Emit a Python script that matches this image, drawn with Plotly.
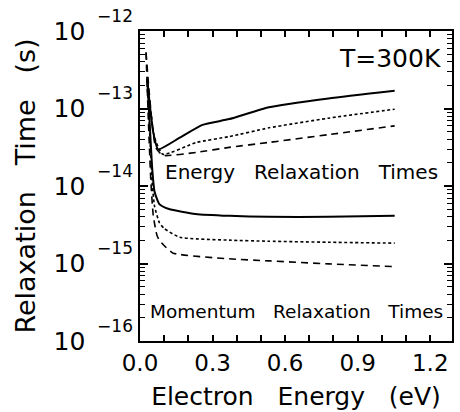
import plotly.graph_objects as go

# ---- data ----
energy_solid_x = [0.03, 0.04, 0.055, 0.075, 0.164, 0.258, 0.369, 0.533, 0.779, 1.053]
energy_solid_y = [2.41e-13, 1.16e-13, 4.88e-14, 2.97e-14, 4.2e-14, 6.15e-14, 7.3e-14, 1.04e-13, 1.35e-13, 1.70e-13]

energy_dot_x = [0.03, 0.045, 0.06, 0.094, 0.234, 0.369, 0.533, 0.779, 1.053]
energy_dot_y = [2.08e-13, 8.7e-14, 4.21e-14, 2.57e-14, 3.65e-14, 4.34e-14, 5.63e-14, 7.5e-14, 9.8e-14]

energy_dash_x = [0.025, 0.035, 0.05, 0.065, 0.094, 0.234, 0.369, 0.533, 0.779, 1.053]
energy_dash_y = [5.27e-13, 2.08e-13, 6.5e-14, 3.15e-14, 2.49e-14, 2.72e-14, 3.15e-14, 3.65e-14, 4.6e-14, 5.97e-14]

mom_solid_x = [0.03, 0.04, 0.05, 0.06, 0.08, 0.12, 0.23, 0.37, 0.53, 0.78, 1.053]
mom_solid_y = [2.41e-13, 6.5e-14, 1.76e-14, 8.5e-15, 5.85e-15, 5.05e-15, 4.36e-15, 4.12e-15, 4.0e-15, 4.0e-15, 4.12e-15]

mom_dot_x = [0.03, 0.04, 0.05, 0.06, 0.08, 0.1, 0.164, 0.37, 0.53, 0.78, 1.053]
mom_dot_y = [2.08e-13, 4.88e-14, 1.14e-14, 5.51e-15, 3.37e-15, 2.83e-15, 2.18e-15, 2.0e-15, 1.94e-15, 1.88e-15, 1.83e-15]

mom_dash_x = [0.025, 0.035, 0.045, 0.055, 0.07, 0.08, 0.135, 0.369, 0.533, 0.779, 1.053]
mom_dash_y = [5.27e-13, 6.5e-14, 1.14e-14, 4.12e-15, 2.31e-15, 2.0e-15, 1.37e-15, 1.15e-15, 1.08e-15, 9.9e-16, 9.1e-16]

y_tick_vals = [1e-12, 1e-13, 1e-14, 1e-15, 1e-16]
y_tick_exps = ["\u221212", "\u221213", "\u221214", "\u221215", "\u221216"]
x_tick_vals = [0.0, 0.3, 0.6, 0.9, 1.2]
x_tick_text = ["0.0", "0.3", "0.6", "0.9", "1.2"]

FONT = "DejaVu Sans"
SP = "\u00a0\u00a0\u00a0"

series = [
    (energy_solid_x, energy_solid_y, "solid", 2.0),
    (energy_dot_x, energy_dot_y, "3px,2.5px", 1.6),
    (energy_dash_x, energy_dash_y, "7px,5px", 1.6),
    (mom_solid_x, mom_solid_y, "solid", 2.0),
    (mom_dot_x, mom_dot_y, "3px,2.5px", 1.6),
    (mom_dash_x, mom_dash_y, "7px,5px", 1.6),
]

fig = go.Figure()
for xs, ys, dash, w in series:
    fig.add_trace(go.Scatter(x=xs, y=ys, mode="lines",
                             line=dict(color="black", width=w, dash=dash,
                                       shape="spline", smoothing=0.5),
                             showlegend=False))

fig.update_layout(
    width=460, height=412,
    margin=dict(l=140, r=6, t=26, b=69),
    paper_bgcolor="white", plot_bgcolor="white",
    font=dict(family=FONT, color="black"),
    annotations=[
        dict(text="T=300K", x=0.97, y=0.965, xref="paper", yref="paper",
             xanchor="right", yanchor="top", showarrow=False,
             font=dict(size=25, family=FONT, color="black")),
        dict(text="Energy" + SP + "Relaxation" + SP + "Times", x=0.519, y=0.546, xref="paper", yref="paper",
             xanchor="center", yanchor="middle", showarrow=False,
             font=dict(size=20, family=FONT, color="black")),
        dict(text="Momentum" + SP + "Relaxation" + SP + "Times", x=0.503, y=0.095, xref="paper", yref="paper",
             xanchor="center", yanchor="middle", showarrow=False,
             font=dict(size=18.5, family=FONT, color="black")),
    ],
)

fig.update_xaxes(
    range=[0, 1.29],
    tickvals=x_tick_vals, ticktext=x_tick_text,
    ticks="inside", ticklen=6, tickwidth=1.5, tickcolor="black",
    minor=dict(ticks="inside", dtick=0.1, ticklen=6, tickwidth=1.5, tickcolor="black", showgrid=False),
    showline=True, linecolor="black", linewidth=2, mirror="allticks",
    showgrid=False, zeroline=False,
    tickfont=dict(size=23, family=FONT, color="black"),
    title=dict(text="\u00a0\u00a0\u00a0\u00a0Electron" + SP + "Energy" + SP + "(eV)",
               font=dict(size=25, family=FONT, color="black"), standoff=13),
)

fig.update_yaxes(
    type="log", range=[-16, -12],
    tickvals=y_tick_vals,
    ticktext=["10<sup><sup>\u00a0\u00a0\u00a0<span style='font-size:17px'>" + e + "</span></sup></sup>"
              for e in y_tick_exps],
    ticks="inside", ticklen=8, tickwidth=1.5, tickcolor="black",
    minor=dict(ticks="inside", dtick="D1", ticklen=5, tickwidth=1.2, tickcolor="black", showgrid=False),
    showline=True, linecolor="black", linewidth=2, mirror="allticks",
    showgrid=False, zeroline=False,
    tickfont=dict(size=25, family=FONT, color="black"),
    title=dict(text="Relaxation" + SP + "Time" + SP + "(s)\u00a0\u00a0",
               font=dict(size=27, family=FONT, color="black"), standoff=10),
)

fig.write_html("out.html")
